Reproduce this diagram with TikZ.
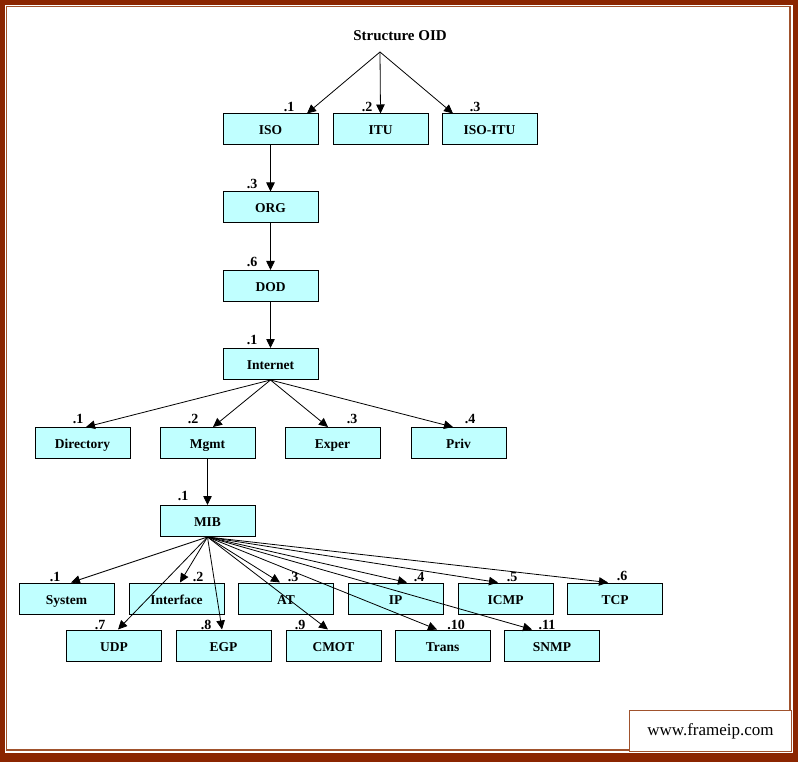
\documentclass[tikz,border=0pt]{standalone}
\usepackage{fontspec}
\setmainfont{Liberation Serif}
\usetikzlibrary{arrows.meta}
\definecolor{framebrown}{RGB}{139,37,0}
\definecolor{linebrown}{RGB}{160,82,45}
\definecolor{boxcyan}{RGB}{192,255,255}
\begin{document}
\begin{tikzpicture}[x=1pt, y=-1pt,
		box/.style={draw, fill=boxcyan, line width=1pt, minimum width=95pt, minimum height=31pt, inner sep=0pt, text height=11pt, text depth=0pt, font=\bfseries\fontsize{13.5}{15}\selectfont},
		num/.style={inner sep=0pt, font=\bfseries\fontsize{14}{16}\selectfont},
		arr/.style={line width=0.8pt, -{Triangle[length=9pt, width=8.5pt]}}]
					\useasboundingbox (0, 0) rectangle (798, 762);
					\fill[framebrown] (0, 0) rectangle (798, 762);
					\fill[white] (5, 5) rectangle (793, 753);
					\draw[linebrown, line width=1.5pt] (6.5, 6.5) rectangle (790, 750);
					\node (title) at (400, 36)[font=\bfseries\fontsize{15}{17}\selectfont] {Structure OID};
					\coordinate (root) at (380, 52);
					\node (iso) at (270.5, 129.5)[box] {ISO};
					\node (itu) at (380.5, 129.5)[box] {ITU};
					\node (isoitu) at (489.5, 129.5)[box] {ISO-ITU};
					\node (org) at (270.5, 207.5)[box] {ORG};
					\node (dod) at (270.5, 286)[box] {DOD};
					\node (internet) at (270.5, 364)[box] {Internet};
					\node (dir) at (82.5, 443)[box] {Directory};
					\node (mgmt) at (207.5, 443)[box] {Mgmt};
					\node (exper) at (332.5, 443)[box] {Exper};
					\node (priv) at (458.5, 443)[box] {Priv};
					\node (mib) at (207.5, 521)[box] {MIB};
					\node (sys) at (66.5, 598.5)[box] {System};
					\node (intf) at (176.5, 598.5)[box] {Interface};
					\node (atb) at (286, 598.5)[box] {AT};
					\node (ip) at (395.5, 598.5)[box] {IP};
					\node (icmp) at (505.5, 598.5)[box] {ICMP};
					\node (tcp) at (615, 598.5)[box] {TCP};
					\node (udp) at (114, 645.5)[box] {UDP};
					\node (egp) at (223.5, 645.5)[box] {EGP};
					\node (cmot) at (333.5, 645.5)[box] {CMOT};
					\node (trans) at (442.5, 645.5)[box] {Trans};
					\node (snmp) at (552, 645.5)[box] {SNMP};
					\node (n-iso) at (289, 107)[num] {.1};
					\node (n-itu) at (367, 107)[num] {.2};
					\node (n-isoitu) at (475, 107)[num] {.3};
					\node (n-org) at (252, 184)[num] {.3};
					\node (n-dod) at (252, 262)[num] {.6};
					\node (n-internet) at (252, 340)[num] {.1};
					\node (n-dir) at (78, 419)[num] {.1};
					\node (n-mgmt) at (193, 419)[num] {.2};
					\node (n-exper) at (352, 419)[num] {.3};
					\node (n-priv) at (470, 419)[num] {.4};
					\node (n-mib) at (183, 496)[num] {.1};
					\node (n-sys) at (55, 577)[num] {.1};
					\node (n-intf) at (198, 577)[num] {.2};
					\node (n-atb) at (293, 577)[num] {.3};
					\node (n-ip) at (419, 577)[num] {.4};
					\node (n-icmp) at (512, 577)[num] {.5};
					\node (n-tcp) at (622, 576)[num] {.6};
					\node (n-udp) at (100, 625)[num] {.7};
					\node (n-egp) at (206, 625)[num] {.8};
					\node (n-cmot) at (300, 625)[num] {.9};
					\node (n-trans) at (456, 625)[num] {.10};
					\node (n-snmp) at (547, 625)[num] {.11};
					\draw[arr] (root) -- ([xshift=36.5pt]iso.north);
					\draw[arr] (root) -- (itu.north);
					\draw[arr] (root) -- ([xshift=-36.5pt]isoitu.north);
					\draw[arr] (iso) -- (org);
					\draw[arr] (org) -- (dod);
					\draw[arr] (dod) -- (internet);
					\draw[arr] (internet.south) -- ([xshift=3.5pt]dir.north);
					\draw[arr] (internet.south) -- ([xshift=5.5pt]mgmt.north);
					\draw[arr] (internet.south) -- ([xshift=-4.5pt]exper.north);
					\draw[arr] (internet.south) -- ([xshift=-5.5pt]priv.north);
					\draw[arr] (mgmt) -- (mib);
					\foreach \t/\s in {sys/4.5, intf/3.5, atb/-6, ip/11.5, icmp/-7.5, tcp/-7, udp/4, egp/-1.5, cmot/-5.5, trans/-5.5, snmp/-20}
						\draw[arr] (mib.south) -- ([xshift=\s pt]\t.north);
					\node (web) at (710.5, 731)[draw=linebrown, line width=1.5pt, fill=white, minimum width=162pt, minimum height=41pt, font=\fontsize{17}{19}\selectfont] {www.frameip.com};
\end{tikzpicture}
\end{document}
